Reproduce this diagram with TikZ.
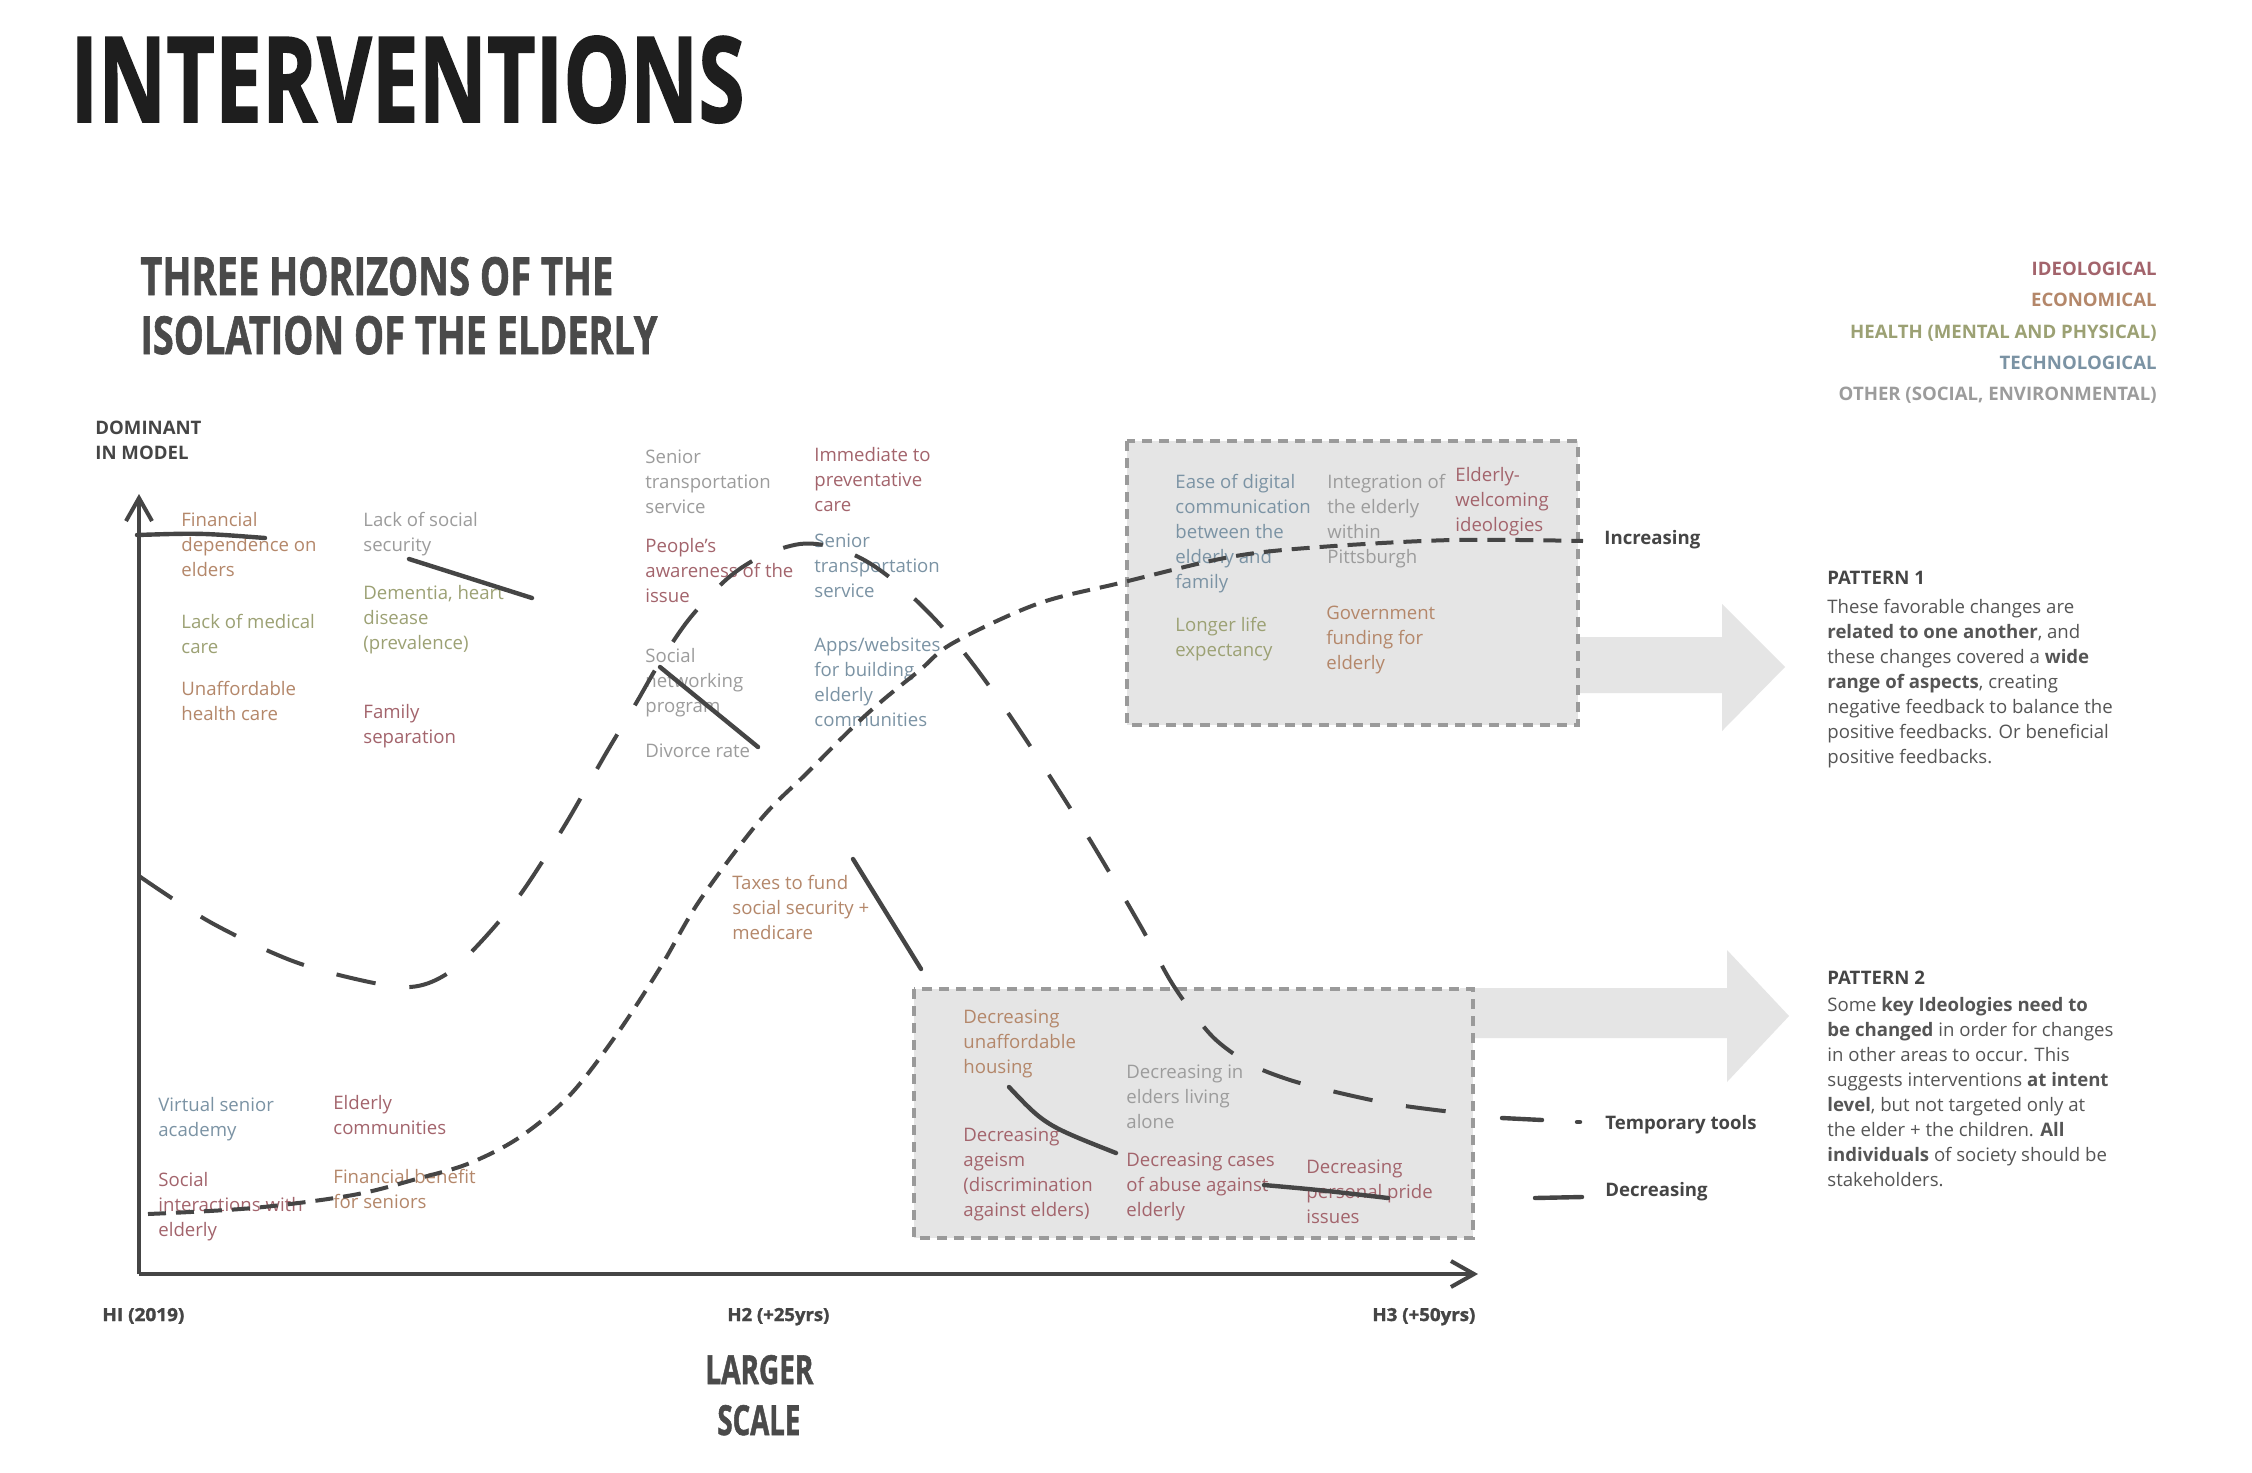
\documentclass[tikz,border=0pt]{standalone}
\usepackage{fontspec}
\setmainfont{Open Sans}
\newfontfamily\heavyfont{Open Sans}[BoldFeatures={FakeBold=1.5}]
\usetikzlibrary{arrows.meta}
\definecolor{ideo}{HTML}{A3646C}
\definecolor{econ}{HTML}{B4876A}
\definecolor{health}{HTML}{9CA174}
\definecolor{tech}{HTML}{7B93A4}
\definecolor{other}{HTML}{9C9C9C}
\definecolor{ink}{HTML}{454545}
\definecolor{boxfill}{HTML}{E5E5E5}
\definecolor{boxline}{HTML}{9A9A9A}
\definecolor{titlec}{HTML}{1E1E1E}
\definecolor{subc}{HTML}{4A4A4A}
\definecolor{bodyc}{HTML}{555555}
\newcommand{\bodysize}{\fontsize{9.3}{12.5}\selectfont}
\begin{document}
\begin{tikzpicture}[x=0.5pt,y=-0.5pt,
 item/.style={anchor=base west,inner sep=0pt,align=left,font=\bodysize},
 lab/.style={anchor=base west,inner sep=0pt,font=\bodysize\bfseries,text=ink},
 cat/.style={anchor=base east,inner sep=0pt,font=\bodysize\bfseries},
 ttl/.style={anchor=base west,inner sep=0pt},
 solidseg/.style={draw=ink,line width=2.2pt,line cap=round},
 tempcurve/.style={draw=ink,line width=2pt,dash pattern=on 20pt off 17pt},
 inccurve/.style={draw=ink,line width=2pt,dash pattern=on 9pt off 5pt},
 hbox/.style={fill=boxfill,draw=boxline,line width=1.6pt,dash pattern=on 5pt off 3.5pt},
 bigarrow/.style={fill=boxfill,draw=none},
 axis/.style={draw=ink,line width=2pt,-{Straight Barb[length=11.5pt,width=13pt]}},
]
\useasboundingbox (0,0) rectangle (2252,1472);
\fill[white] (0,0) rectangle (2252,1472);

% titles
\node[ttl,text=titlec] (title) at (70,122) {\resizebox{337pt}{43pt}{\heavyfont\bfseries INTERVENTIONS}};
\node[ttl,text=subc] (sub1) at (140,295) {\resizebox{236.5pt}{19pt}{\heavyfont\bfseries THREE HORIZONS OF THE}};
\node[ttl,text=subc] (sub2) at (140,354) {\resizebox{258.5pt}{19pt}{\heavyfont\bfseries ISOLATION OF THE ELDERLY}};

% category legend
\node[cat,text=ideo] (cideo) at (2157,275) {IDEOLOGICAL};
\node[cat,text=econ] (cecon) at (2157,306) {ECONOMICAL};
\node[cat,text=health] (chealth) at (2157,338) {HEALTH (MENTAL AND PHYSICAL)};
\node[cat,text=tech] (ctech) at (2157,369) {TECHNOLOGICAL};
\node[cat,text=other] (cother) at (2157,400) {OTHER (SOCIAL, ENVIRONMENTAL)};

% y label (base = last line)
\node[lab,align=left] (dom) at (95,459) {DOMINANT\\IN MODEL};

% big arrows
\fill[bigarrow] (1560,637) -- (1722,637) -- (1722,604) -- (1785,667) -- (1722,731) -- (1722,693) -- (1560,693) -- cycle;
\fill[bigarrow] (1460,988) -- (1727,988) -- (1727,950) -- (1789,1016) -- (1727,1082) -- (1727,1038) -- (1460,1038) -- cycle;

% horizon boxes
\draw[hbox] (1127,441) rectangle (1578,725);
\draw[hbox] (914,989) rectangle (1473,1238);

% axes
\coordinate (origin) at (139,1274);
\coordinate (ytop) at (139,494);
\coordinate (xend) at (1478,1274);
\draw[axis] (origin) -- (ytop);
\draw[axis] (origin) -- (xend);

% axis labels
\node[ttl,text=ink] (h1) at (102,1321) {\resizebox{41pt}{6.5pt}{\heavyfont\bfseries HI (2019)}};
\node[ttl,text=ink] (h2) at (727,1321) {\resizebox{51pt}{6.5pt}{\heavyfont\bfseries H2 (+25yrs)}};
\node[ttl,text=ink] (h3) at (1372,1321) {\resizebox{51.5pt}{6.5pt}{\heavyfont\bfseries H3 (+50yrs)}};
\node[ttl,text=subc] (larger) at (705,1384) {\resizebox{54pt}{14.5pt}{\heavyfont\bfseries LARGER}};
\node[ttl,text=subc] (scale) at (717,1435) {\resizebox{41.5pt}{15pt}{\heavyfont\bfseries SCALE}};

% items (anchor = baseline of last line)
\node[item,text=econ] (n1) at (181,576) {Financial\\dependence on\\elders};
\node[item,text=health] (n2) at (181,653) {Lack of medical\\care};
\node[item,text=econ] (n3) at (181,720) {Unaffordable\\health care};
\node[item,text=other] (n4) at (363,551) {Lack of social\\security};
\node[item,text=health] (n5) at (363,649) {Dementia, heart\\disease\\(prevalence)};
\node[item,text=ideo] (n6) at (363,743) {Family\\separation};
\node[item,text=other] (n7) at (645,513) {Senior\\transportation\\service};
\node[item,text=ideo] (n8) at (645,602) {People's\\awareness of the\\issue};
\node[item,text=other] (n9) at (645,712) {Social\\networking\\program};
\node[item,text=other] (n10) at (645,757) {Divorce rate};
\node[item,text=ideo] (n11) at (814,511) {Immediate to\\preventative\\care};
\node[item,text=tech] (n12) at (814,597) {Senior\\transportation\\service};
\node[item,text=tech] (n13) at (814,726) {Apps/websites\\for building\\elderly\\communities};
\node[item,text=econ] (n14) at (732,939) {Taxes to fund\\social security +\\medicare};
\node[item,text=tech] (n15) at (1175,588) {Ease of digital\\communication\\between the\\elderly and\\family};
\node[item,text=other] (n16) at (1327,563) {Integration of\\the elderly\\within\\Pittsburgh};
\node[item,text=ideo] (n17) at (1455,531) {Elderly-\\welcoming\\ideologies};
\node[item,text=health] (n18) at (1175,656) {Longer life\\expectancy};
\node[item,text=econ] (n19) at (1326,669) {Government\\funding for\\elderly};
\node[item,text=tech] (n20) at (158,1136) {Virtual senior\\academy};
\node[item,text=ideo] (n21) at (158,1236) {Social\\interactions with\\elderly};
\node[item,text=ideo] (n22) at (333,1134) {Elderly\\communities};
\node[item,text=econ] (n23) at (333,1208) {Financial benefit\\for seniors};
\node[item,text=econ] (n24) at (963,1073) {Decreasing\\unaffordable\\housing};
\node[item,text=other] (n25) at (1126,1128) {Decreasing in\\elders living\\alone};
\node[item,text=ideo] (n26) at (963,1216) {Decreasing\\ageism\\(discrimination\\against elders)};
\node[item,text=ideo] (n27) at (1126,1216) {Decreasing cases\\of abuse against\\elderly};
\node[item,text=ideo] (n28) at (1306,1223) {Decreasing\\personal pride\\issues};

% H1 decreasing (solid pieces)
\draw[solidseg] (137,535) .. controls (200,533) .. (265,538);
\draw[solidseg] (409,559) -- (532,598);
\draw[solidseg] (660,667) -- (758,747);
\draw[solidseg] (853,859) -- (921,969);
\draw[solidseg] (1009,1087) .. controls (1045,1125) .. (1116,1153);
\draw[solidseg] (1264,1185) .. controls (1320,1190) .. (1388,1198);

% H2 temporary tools (long dash)
\draw[tempcurve] plot[smooth,tension=0.55] coordinates {(139,876) (210,922) (290,960) (360,980) (410,987) (445,975) (478,945) (520,895) (565,825) (605,755) (635,705) (660,662) (690,618) (728,578) (762,556) (800,544) (833,547) (866,561) (898,584) (930,614) (962,650) (997,697) (1038,758) (1090,840) (1140,925) (1170,980) (1193,1013) (1216,1040) (1248,1063) (1281,1077) (1319,1088) (1392,1104) (1470,1114)};

% H3 increasing (medium dash)
\draw[inccurve] plot[smooth,tension=0.55] coordinates {(148,1214) (253,1208) (353,1195) (420,1178) (470,1163) (520,1137) (570,1095) (617,1034) (660,968) (700,900) (761,819) (807,773) (853,727) (883,700) (920,670) (953,643) (1037,604) (1120,583) (1230,557) (1320,547) (1453,540) (1583,541)};

% legend
\node[lab] (linc) at (1604,544) {Increasing};
\node[lab] (ltemp) at (1605,1129) {Temporary tools};
\node[lab] (ldec) at (1605,1196) {Decreasing};
\draw[solidseg] (1502,1118) -- (1542,1120);
\draw[solidseg] (1577,1122) -- (1580,1122);
\draw[solidseg] (1535,1198) -- (1582,1197);

% patterns
\node[lab] (p1) at (1827,584) {PATTERN 1};
\node[item,text=bodyc] (p1b) at (1827,763) {These favorable changes are\\\textbf{related to one another}, and\\these changes covered a \textbf{wide}\\\textbf{range of aspects}, creating\\negative feedback to balance the\\positive feedbacks. Or beneficial\\positive feedbacks.};
\node[lab] (p2) at (1827,984) {PATTERN 2};
\node[item,text=bodyc] (p2b) at (1827,1186) {Some \textbf{key Ideologies need to}\\\textbf{be changed} in order for changes\\in other areas to occur. This\\suggests interventions \textbf{at intent}\\\textbf{level}, but not targeted only at\\the elder + the children. \textbf{All}\\\textbf{individuals} of society should be\\stakeholders.};
\end{tikzpicture}
\end{document}
